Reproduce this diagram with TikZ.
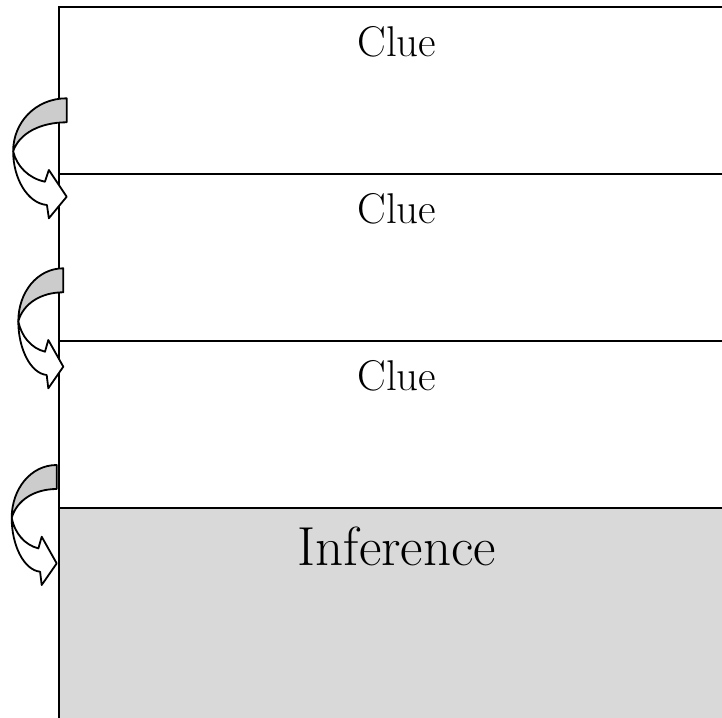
\documentclass[tikz,border=0pt]{standalone}
\usetikzlibrary{positioning}
\definecolor{BoxClr}{rgb}{0.851,0.851,0.851}
\definecolor{BandClr}{rgb}{0.80,0.80,0.80}

\tikzset{
  cluebox/.style={draw,line width=1.8pt,rectangle,anchor=north west,
    minimum width=676pt,minimum height=167pt,inner sep=0pt},
  cluetext/.style={inner sep=0pt,font=\fontsize{43}{48}\selectfont},
  arrowline/.style={draw,line width=1.8pt,line join=round}
}

% curved arrow: right x, top y, xscale
\newcommand{\bentarrow}[3]{%
\begin{scope}[shift={(#1,#2)},xscale=#3]
\path[arrowline,fill=white] (-45,53) .. controls (-45,80) and (-33,105) .. (-16.6,106.7)
  -- (-15,120) -- (0,98.4) -- (-15,71.7) -- (-18.3,83.4)
  .. controls (-32,80) and (-42,68) .. (-45,53) -- cycle;
\path[arrowline,fill=BandClr] (0,0) .. controls (-26,0) and (-45,24) .. (-45,53)
  .. controls (-40,35) and (-22,24) .. (0,24) -- cycle;
\end{scope}}

\begin{document}
\begin{tikzpicture}[x=1pt,y=-1pt]
\useasboundingbox (0,0) rectangle (722,717);
\clip (0,0) rectangle (722,717);

\node[cluebox] (clue1) at (58,6) {};
\node[cluebox] (clue2) at (58,173) {};
\node[cluebox] (clue3) at (58,340) {};
\node[cluebox,fill=BoxClr,minimum height=240pt] (infer) at (58,507) {};

\node[cluetext,below=20pt of clue1.north] (t1) {Clue};
\node[cluetext,below=20pt of clue2.north] (t2) {Clue};
\node[cluetext,below=20pt of clue3.north] (t3) {Clue};
\node[cluetext,font=\fontsize{55}{60}\selectfont,below=20pt of infer.north] (t4) {Inference};

\bentarrow{66.7}{98.3}{1.19}
\bentarrow{63.3}{268.3}{1}
\bentarrow{56.7}{465}{1}

\end{tikzpicture}
\end{document}
